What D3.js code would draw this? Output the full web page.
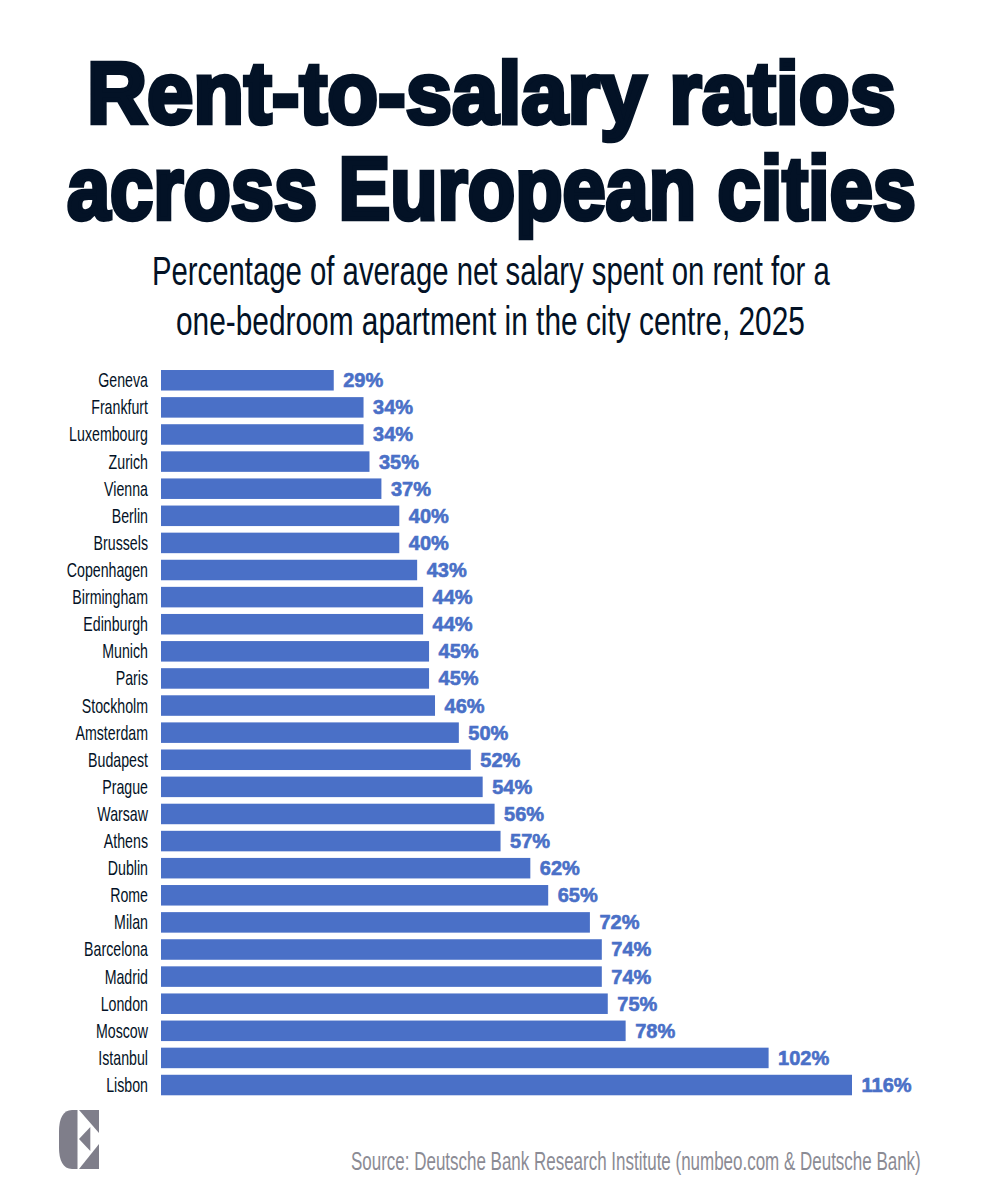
<!DOCTYPE html>
<html>
<head>
<meta charset="utf-8">
<script src="https://cdn.jsdelivr.net/npm/d3@7"></script>
<style>
  html, body { margin: 0; padding: 0; background: #fff; }
  text { font-family: "Liberation Sans", sans-serif; }
</style>
</head>
<body>
<div id="chart"></div>
<script>
const cities = ["Geneva", "Frankfurt", "Luxembourg", "Zurich", "Vienna", "Berlin", "Brussels",
  "Copenhagen", "Birmingham", "Edinburgh", "Munich", "Paris", "Stockholm", "Amsterdam",
  "Budapest", "Prague", "Warsaw", "Athens", "Dublin", "Rome", "Milan", "Barcelona",
  "Madrid", "London", "Moscow", "Istanbul", "Lisbon"];
const rentShare = [29, 34, 34, 35, 37, 40, 40, 43, 44, 44, 45, 45, 46, 50, 52, 54, 56, 57,
  62, 65, 72, 74, 74, 75, 78, 102, 116];
const titleLines = ["Rent-to-salary ratios", "across European cities"];
const subtitleLines = ["Percentage of average net salary spent on rent for a",
  "one-bedroom apartment in the city centre, 2025"];
const sourceText = "Source: Deutsche Bank Research Institute (numbeo.com & Deutsche Bank)";

const width = 981, height = 1200;
const navy = "#031226", blue = "#4a70c7", grey = "#8b8b94";

const svg = d3.select("#chart").append("svg")
  .attr("width", width)
  .attr("height", height)
  .style("display", "block");

const xScale = d3.scaleLinear().domain([0, 116]).range([161, 852]);
const yScale = d3.scaleBand().domain(cities).range([367.3, 1098]).paddingInner(0.243).paddingOuter(0.1);

// the installed fonts are wider than the original one, so squeeze text horizontally
function squeeze(sel, x, y, sx) {
  sel.attr("transform", `translate(${x},${y}) scale(${sx},1)`);
}

// one line of text stretched to an exact width
function fittedLine(str, x, y, w, size, weight, fill, strokeWidth) {
  const t = svg.append("text").text(str)
    .attr("font-size", size)
    .attr("font-weight", weight)
    .attr("fill", fill)
    .attr("stroke", strokeWidth ? fill : "none")
    .attr("stroke-width", strokeWidth || 0);
  squeeze(t, x, y, w / t.node().getComputedTextLength());
  return t;
}

fittedLine(titleLines[0], 87, 123, 809, 88, 700, navy, 4.5);
fittedLine(titleLines[1], 67, 219, 849, 88, 700, navy, 4.5);

fittedLine(subtitleLines[0], 152, 285, 678, 41, 400, navy);
fittedLine(subtitleLines[1], 176, 335, 629, 41, 400, navy);

svg.selectAll(".bar")
  .data(rentShare)
  .join("rect")
  .attr("class", "bar")
  .attr("x", xScale(0))
  .attr("y", (d, i) => yScale(cities[i]))
  .attr("width", d => xScale(d) - xScale(0))
  .attr("height", yScale.bandwidth())
  .attr("fill", blue);

svg.selectAll(".cityLabel")
  .data(cities)
  .join("text")
  .attr("class", "cityLabel")
  .attr("text-anchor", "end")
  .attr("font-size", 20)
  .attr("fill", navy)
  .text(d => d)
  .each(function(d) {
    squeeze(d3.select(this), 148, yScale(d) + yScale.bandwidth() / 2 + 7, 0.71);
  });

svg.selectAll(".valueLabel")
  .data(rentShare)
  .join("text")
  .attr("class", "valueLabel")
  .attr("font-size", 20)
  .attr("font-weight", 700)
  .attr("fill", blue)
  .attr("stroke", blue)
  .attr("stroke-width", 0.6)
  .text(d => d + "%")
  .each(function(d, i) {
    squeeze(d3.select(this), xScale(d) + 9.5, yScale(cities[i]) + yScale.bandwidth() / 2 + 7, 1);
  });

fittedLine(sourceText, 351, 1170, 570, 25, 400, grey);

// publisher mark
const logo = svg.append("g").attr("fill", "#7f7e8a");
logo.append("path").attr("d", "M77.5,1110 L77.5,1169 L72,1169 C63,1169 59,1160 59,1148 L59,1131 C59,1119 63,1110 72,1110 Z");
logo.append("path").attr("d", "M79,1110 L99,1110 L99,1133 Z");
logo.append("path").attr("d", "M90.3,1127 L90.3,1151 L79,1139 Z");
logo.append("path").attr("d", "M99,1144 L99,1169 L79,1169 Z");
</script>
</body>
</html>
